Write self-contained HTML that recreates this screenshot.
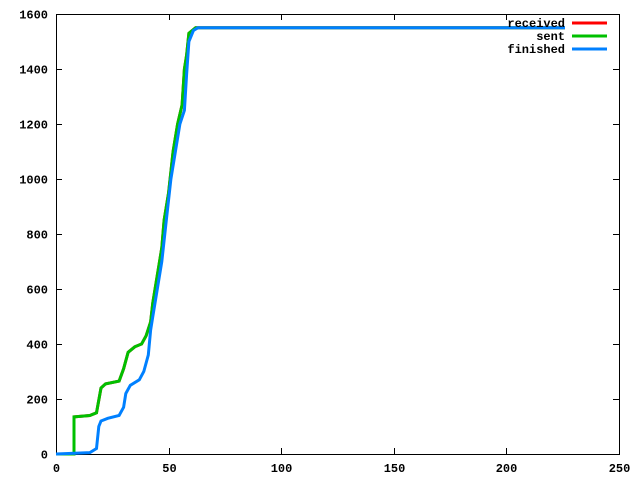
<!DOCTYPE html>
<html><head><meta charset="utf-8"><style>
body{margin:0;background:#fff}
svg text{font-family:"Liberation Mono",monospace;font-weight:bold;font-size:12px}
</style></head><body>
<svg id="chart" width="640" height="480" xmlns="http://www.w3.org/2000/svg">
<rect x="0" y="0" width="640" height="480" fill="#fff"/>
<g id="axes"></g>
<g id="series"></g>
<g id="legend"></g>
</svg>
<script>
const xTicks=[0,50,100,150,200,250];
const yTicks=[0,200,400,600,800,1000,1200,1400,1600];
const sentX=[0,8,8,15,18,20,22,28,30,32,35,38,40,42,43,45,47,48,50,52,54,56,57,58,59,62,226];
const sentY=[0,0,135,140,150,240,255,265,310,370,390,400,430,480,550,650,750,850,950,1100,1200,1270,1400,1450,1530,1550,1550];
const recvX=[0,8,8,15,18,20,22,28,30,32,35,38,40,42,43,45,47,48,50,52,54,56,57,58,59,62,226];
const recvY=[0,0,135,140,150,240,255,265,310,370,390,400,430,480,550,650,750,850,950,1100,1200,1270,1400,1450,1530,1550,1550];
const finX=[0,15,18,19,20,23,28,30,31,33,37,39,41,42,43,45,47,49,51,53,55,57,58,59,61,63,226];
const finY=[0,5,20,100,120,130,140,170,220,250,270,300,360,450,500,600,700,850,1000,1100,1200,1250,1380,1500,1540,1550,1550];
const L=56,R=619,T=14,B=454;
const sx=v=>L+(v-0)/250*(R-L);
const sy=v=>B-(v-0)/1600*(B-T);
const NS="http://www.w3.org/2000/svg";
function mk(tag,attrs,parent){const e=document.createElementNS(NS,tag);for(const k in attrs)e.setAttribute(k,attrs[k]);parent.appendChild(e);return e;}
const axes=document.getElementById('axes');
const frame=mk('rect',{x:L+0.5,y:T+0.5,width:R-L,height:B-T,fill:'none',stroke:'#000','stroke-width':1},axes);


xTicks.forEach(v=>{
 const x=Math.round(sx(v))+0.5;
 const t1=mk('line',{x1:x,x2:x,y1:B,y2:B-6,stroke:'#000'},axes);
 
 
 const t2=mk('line',{x1:x,x2:x,y1:T,y2:T+6,stroke:'#000'},axes);
 
 
 const tx=mk('text',{x:x,y:B+18,'text-anchor':'middle'},axes);tx.textContent=v;
 
 
});
yTicks.forEach(v=>{
 const y=Math.round(sy(v))+0.5;
 const t1=mk('line',{x1:L,x2:L+6,y1:y,y2:y,stroke:'#000'},axes);
 
 
 const t2=mk('line',{x1:R-6,x2:R,y1:y,y2:y,stroke:'#000'},axes);
 
 
 const tx=mk('text',{x:L-8,y:y+4,'text-anchor':'end'},axes);tx.textContent=v;
 
 
});
const ser=document.getElementById('series');
function line(xs,ys,color,name){
 const pts=xs.map((x,i)=>sx(x).toFixed(1)+','+sy(ys[i]).toFixed(1)).join(' ');
 const p=mk('polyline',{points:pts,fill:'none',stroke:color,'stroke-width':3,'stroke-linejoin':'miter'},ser);
 
 
}
line(recvX,recvY,'#ff0000','received-line');
line(sentX,sentY,'#00c000','sent-line');
line(finX,finY,'#0080ff','finished-line');
const lg=document.getElementById('legend');
[['received','#ff0000',23],['sent','#00c000',36],['finished','#0080ff',49]].forEach(([n,c,y])=>{
 const tx=mk('text',{x:565,y:y+4,'text-anchor':'end'},lg);tx.textContent=n;
 
 
 const l=mk('line',{x1:572,x2:607,y1:y,y2:y,stroke:c,'stroke-width':3},lg);
 
 
});
</script>
</body></html>
